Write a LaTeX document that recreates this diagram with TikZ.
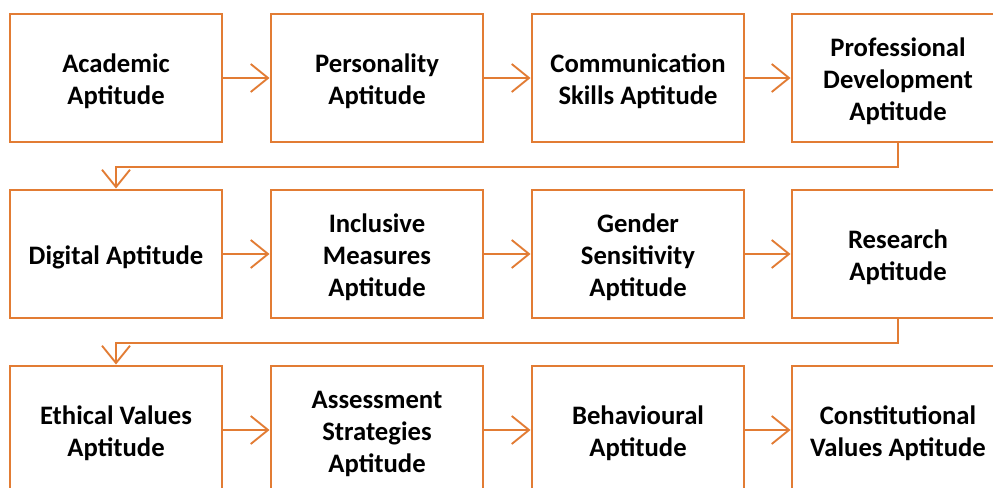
\documentclass[tikz,border=0pt]{standalone}
\usepackage{fontspec}
\setmainfont{Carlito}
\usetikzlibrary{arrows.meta}
\definecolor{flow}{RGB}{226,124,52}
% fixed first-line height so every label sits at the same optical centre
\newcommand{\firstline}{\rule{0pt}{18.5pt}}
\begin{document}
\begin{tikzpicture}[x=0.75pt,y=-0.75pt,
  stage/.style={draw=flow, line width=2.2pt, fill=white, rectangle,
    minimum width=159pt, minimum height=96pt, inner sep=0pt,
    align=center, font=\fontsize{20}{24}\selectfont\bfseries, text=black},
  link/.style={draw=flow, line width=1.5pt,
    -{Straight Barb[length=13pt,width=21pt,line width=1.4pt]}}]
\useasboundingbox[fill=white] (0,0) rectangle (993,488);
% row 1
\node[stage] (a1) at (116,78) {\firstline Academic\\Aptitude};
\node[stage] (a2) at (377,78) {\firstline Personality\\Aptitude};
\node[stage] (a3) at (638,78) {\firstline Communication\\Skills Aptitude};
\node[stage] (a4) at (898,78) {\firstline Professional\\Development\\Aptitude};
% row 2
\node[stage] (b1) at (116,254) {\firstline Digital Aptitude};
\node[stage] (b2) at (377,254) {\firstline Inclusive\\Measures\\Aptitude};
\node[stage] (b3) at (638,254) {\firstline Gender\\Sensitivity\\Aptitude};
\node[stage] (b4) at (898,254) {\firstline Research\\Aptitude};
% row 3
\node[stage] (c1) at (116,430) {\firstline Ethical Values\\Aptitude};
\node[stage] (c2) at (377,430) {\firstline Assessment\\Strategies\\Aptitude};
\node[stage] (c3) at (638,430) {\firstline Behavioural\\Aptitude};
\node[stage] (c4) at (898,430) {\firstline Constitutional\\Values Aptitude};
% connectors within rows
\draw[link] (a1) -- (a2);
\draw[link] (a2) -- (a3);
\draw[link] (a3) -- (a4);
\draw[link] (b1) -- (b2);
\draw[link] (b2) -- (b3);
\draw[link] (b3) -- (b4);
\draw[link] (c1) -- (c2);
\draw[link] (c2) -- (c3);
\draw[link] (c3) -- (c4);
% connectors between rows
\draw[link] (a4.south) -- ++(0,24) -| (b1.north);
\draw[link] (b4.south) -- ++(0,24) -| (c1.north);
\end{tikzpicture}
\end{document}
